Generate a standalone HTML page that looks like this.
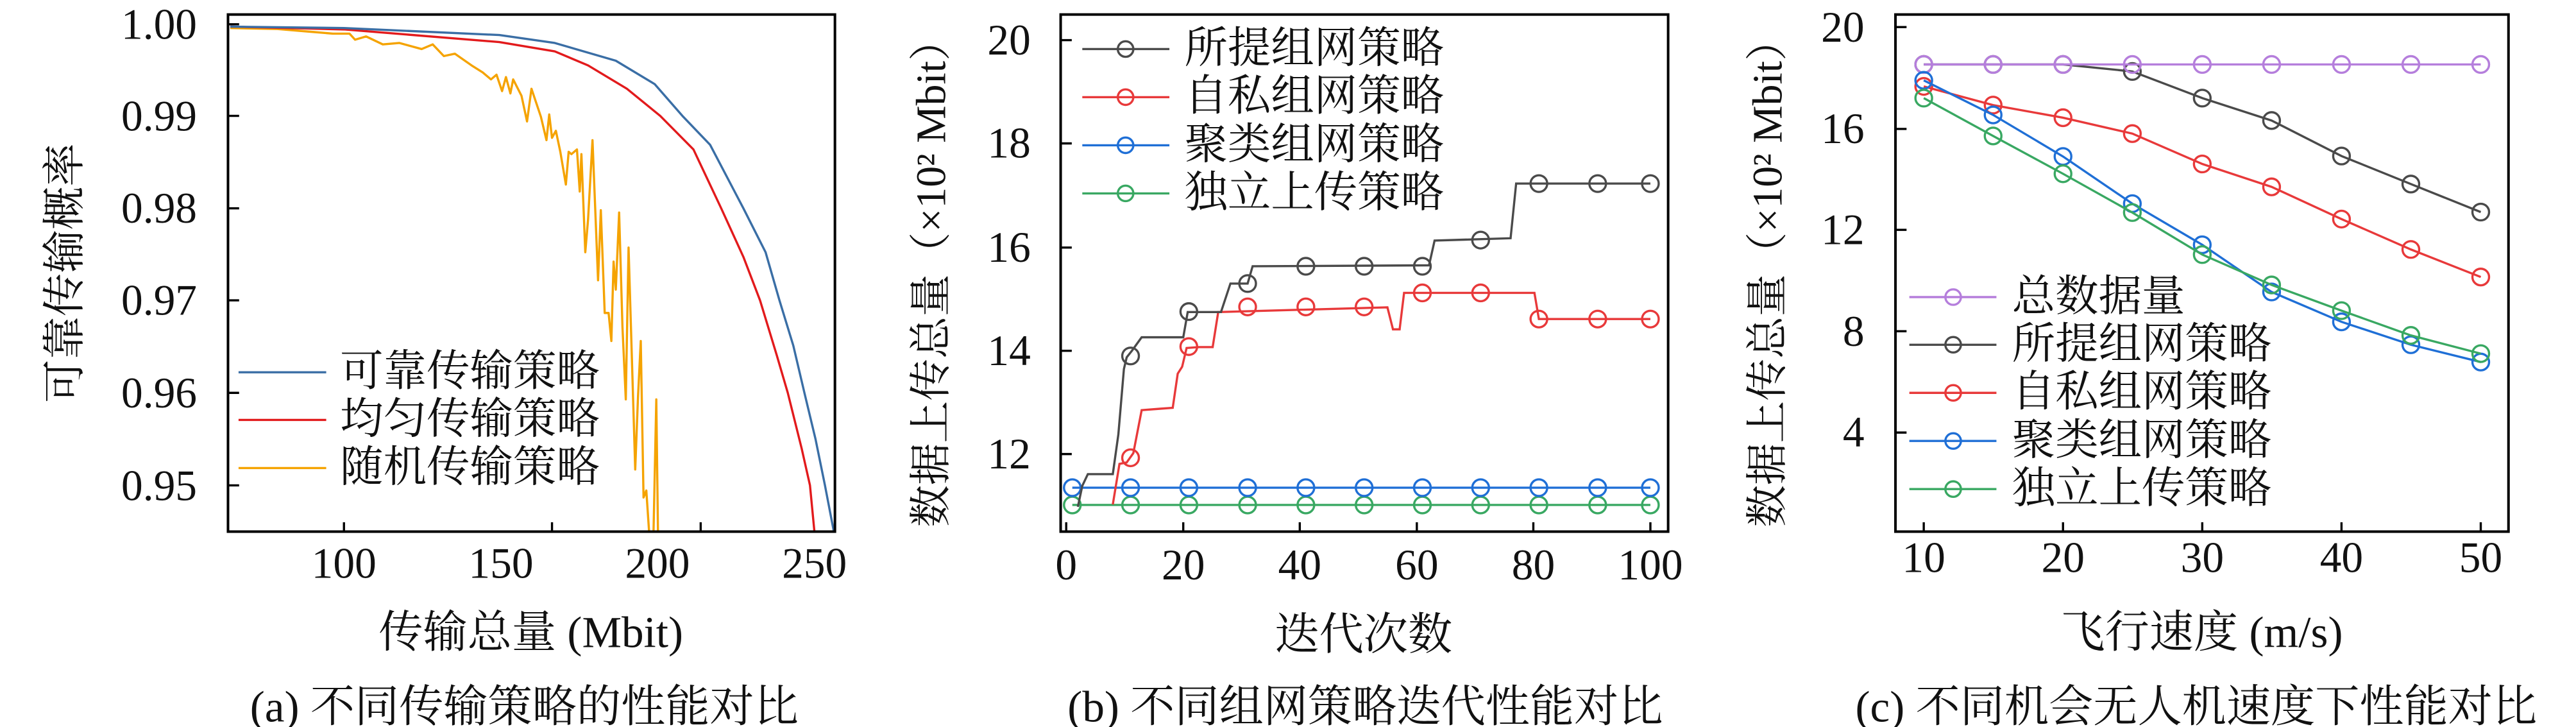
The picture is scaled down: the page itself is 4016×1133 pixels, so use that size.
<!DOCTYPE html>
<html><head><meta charset="utf-8"><style>
html,body{margin:0;padding:0;background:#fff;overflow:hidden;}
svg{display:block;}
text{font-family:"Liberation Serif","Noto Serif CJK SC","Noto Sans CJK SC",serif;fill:#111;}
.g *{vector-effect:non-scaling-stroke;}
.g polyline,.g line,.g ellipse{stroke-width:3.4px;}
.g rect{stroke-width:4px;}
</style></head><body>
<svg width="4016" height="1133" viewBox="0 0 4016 1133" xmlns="http://www.w3.org/2000/svg">
<rect width="4016" height="1133" fill="#fff"/>

<!-- Panel a geometry -->
<g class="g" transform="scale(0.8649,0.728)">
  <g stroke="#000">
    <line x1="411" y1="52" x2="431" y2="52"/><line x1="411" y1="248" x2="431" y2="248"/>
    <line x1="411" y1="446" x2="431" y2="446"/><line x1="411" y1="643" x2="431" y2="643"/>
    <line x1="411" y1="841" x2="431" y2="841"/><line x1="411" y1="1039" x2="431" y2="1039"/>
    <line x1="620" y1="1138" x2="620" y2="1118"/><line x1="995" y1="1138" x2="995" y2="1118"/>
    <line x1="1263" y1="1138" x2="1263" y2="1118"/>
  </g>
  <polyline fill="none" stroke="#f5a300" stroke-linejoin="round" points="415,60 500,62 560,68 600,72 630,72 640,85 660,78 690,95 720,92 760,105 780,95 800,120 820,115 850,140 870,155 885,170 895,160 905,195 912,165 920,200 925,170 940,205 950,260 958,190 975,250 985,300 990,245 995,295 1002,280 1010,325 1020,395 1025,325 1030,330 1040,320 1045,410 1048,330 1055,540 1060,470 1068,300 1078,600 1083,450 1090,670 1097,670 1102,730 1106,560 1110,620 1116,455 1122,700 1128,855 1133,530 1145,1005 1150,850 1155,730 1160,1065 1165,1050 1170,1138 1178,1138 1183,855 1186,1138"/>
  <polyline fill="none" stroke="#e21a1c" stroke-linejoin="round" points="415,57 620,63 900,90 1000,110 1060,140 1130,190 1190,248 1250,320 1300,446 1340,550 1370,643 1400,760 1420,841 1445,960 1460,1039 1468,1138"/>
  <polyline fill="none" stroke="#3a6ea5" stroke-linejoin="round" points="415,57 620,60 900,75 1000,92 1110,130 1180,180 1230,248 1280,310 1340,446 1380,540 1405,643 1430,740 1450,841 1470,940 1487,1039 1503,1138"/>
  <rect x="411" y="31" width="1094" height="1107" fill="none" stroke="#000"/>
  <line x1="430" y1="797" x2="588" y2="797" stroke="#3a6ea5"/>
  <line x1="430" y1="899" x2="588" y2="899" stroke="#e21a1c"/>
  <line x1="430" y1="1002" x2="588" y2="1002" stroke="#f5a300"/>
</g>
<g transform="scale(0.8649)">
  <g font-size="78" text-anchor="end">
    <text x="355" y="70">1.00</text><text x="355" y="235">0.99</text><text x="355" y="401">0.98</text>
    <text x="355" y="567">0.97</text><text x="355" y="734">0.96</text><text x="355" y="901">0.95</text>
  </g>
  <g font-size="78" text-anchor="middle">
    <text x="620" y="1041">100</text><text x="903" y="1041">150</text>
    <text x="1185" y="1041">200</text><text x="1468" y="1041">250</text>
  </g>
  <g font-size="78">
    <text x="613" y="695">可靠传输策略</text><text x="613" y="781">均匀传输策略</text><text x="613" y="868">随机传输策略</text>
  </g>
  <text x="957" y="1166" font-size="80" text-anchor="middle">传输总量 (Mbit)</text>
  <text x="945" y="1300" font-size="80" text-anchor="middle">(a) 不同传输策略的性能对比</text>
  <text transform="translate(143,492) rotate(-90)" font-size="78" text-anchor="middle">可靠传输概率</text>
</g>

<!-- Panel b geometry -->
<g class="g" transform="translate(1350,0) scale(0.8649,0.728)">
  <g stroke="#000">
    <line x1="351" y1="86" x2="371" y2="86"/><line x1="351" y1="307" x2="371" y2="307"/>
    <line x1="351" y1="530" x2="371" y2="530"/><line x1="351" y1="751" x2="371" y2="751"/>
    <line x1="351" y1="972" x2="371" y2="972"/>
    <line x1="361" y1="1138" x2="361" y2="1118"/><line x1="572" y1="1138" x2="572" y2="1118"/>
    <line x1="782" y1="1138" x2="782" y2="1118"/><line x1="993" y1="1138" x2="993" y2="1118"/>
    <line x1="1203" y1="1138" x2="1203" y2="1118"/><line x1="1414" y1="1138" x2="1414" y2="1118"/>
  </g>
  <g fill="none">
    <g stroke="#39a862">
      <line x1="372" y1="1081" x2="1414" y2="1081"/>
      <ellipse cx="372" cy="1081" rx="15" ry="17.8"/><ellipse cx="477" cy="1081" rx="15" ry="17.8"/><ellipse cx="582" cy="1081" rx="15" ry="17.8"/><ellipse cx="688" cy="1081" rx="15" ry="17.8"/><ellipse cx="793" cy="1081" rx="15" ry="17.8"/><ellipse cx="898" cy="1081" rx="15" ry="17.8"/><ellipse cx="1003" cy="1081" rx="15" ry="17.8"/><ellipse cx="1108" cy="1081" rx="15" ry="17.8"/><ellipse cx="1213" cy="1081" rx="15" ry="17.8"/><ellipse cx="1319" cy="1081" rx="15" ry="17.8"/><ellipse cx="1414" cy="1081" rx="15" ry="17.8"/>
    </g>
    <g stroke="#1f6fd6">
      <line x1="372" y1="1044" x2="1414" y2="1044"/>
      <ellipse cx="372" cy="1044" rx="15" ry="17.8"/><ellipse cx="477" cy="1044" rx="15" ry="17.8"/><ellipse cx="582" cy="1044" rx="15" ry="17.8"/><ellipse cx="688" cy="1044" rx="15" ry="17.8"/><ellipse cx="793" cy="1044" rx="15" ry="17.8"/><ellipse cx="898" cy="1044" rx="15" ry="17.8"/><ellipse cx="1003" cy="1044" rx="15" ry="17.8"/><ellipse cx="1108" cy="1044" rx="15" ry="17.8"/><ellipse cx="1213" cy="1044" rx="15" ry="17.8"/><ellipse cx="1319" cy="1044" rx="15" ry="17.8"/><ellipse cx="1414" cy="1044" rx="15" ry="17.8"/>
    </g>
    <g stroke="#e8393a">
      <polyline points="445,1080 457,993 470,990 482,970 497,878 530,875 553,873 562,800 570,785 578,745 600,743 625,743 635,668 940,658 950,705 962,705 970,627 1205,627 1213,683 1414,683"/>
      <ellipse cx="477" cy="980" rx="15" ry="17.8"/><ellipse cx="582" cy="742" rx="15" ry="17.8"/><ellipse cx="688" cy="657" rx="15" ry="17.8"/><ellipse cx="793" cy="657" rx="15" ry="17.8"/><ellipse cx="898" cy="657" rx="15" ry="17.8"/><ellipse cx="1003" cy="627" rx="15" ry="17.8"/><ellipse cx="1108" cy="627" rx="15" ry="17.8"/><ellipse cx="1213" cy="683" rx="15" ry="17.8"/><ellipse cx="1319" cy="683" rx="15" ry="17.8"/><ellipse cx="1414" cy="683" rx="15" ry="17.8"/>
    </g>
    <g stroke="#4a4a4a">
      <polyline points="382,1085 390,1040 400,1015 445,1015 455,930 465,790 470,765 480,750 497,722 572,722 580,668 640,668 657,607 688,607 697,570 1015,568 1025,515 1162,510 1172,393 1414,393"/>
      <ellipse cx="477" cy="762" rx="15" ry="17.8"/><ellipse cx="582" cy="667" rx="15" ry="17.8"/><ellipse cx="688" cy="607" rx="15" ry="17.8"/><ellipse cx="793" cy="570" rx="15" ry="17.8"/><ellipse cx="898" cy="570" rx="15" ry="17.8"/><ellipse cx="1003" cy="570" rx="15" ry="17.8"/><ellipse cx="1108" cy="514" rx="15" ry="17.8"/><ellipse cx="1213" cy="393" rx="15" ry="17.8"/><ellipse cx="1319" cy="393" rx="15" ry="17.8"/><ellipse cx="1414" cy="393" rx="15" ry="17.8"/>
    </g>
  </g>
  <rect x="351" y="31" width="1095" height="1107" fill="none" stroke="#000"/>
  <g fill="none">
    <g stroke="#4a4a4a"><line x1="390" y1="105" x2="547" y2="105"/><ellipse cx="468" cy="105" rx="14" ry="16.6"/></g>
    <g stroke="#e8393a"><line x1="390" y1="208" x2="547" y2="208"/><ellipse cx="468" cy="208" rx="14" ry="16.6"/></g>
    <g stroke="#1f6fd6"><line x1="390" y1="311" x2="547" y2="311"/><ellipse cx="468" cy="311" rx="14" ry="16.6"/></g>
    <g stroke="#39a862"><line x1="390" y1="414" x2="547" y2="414"/><ellipse cx="468" cy="414" rx="14" ry="16.6"/></g>
  </g>
</g>
<g transform="translate(1350,0) scale(0.8649)">
  <g font-size="78" text-anchor="end">
    <text x="297" y="98">20</text><text x="297" y="284">18</text><text x="297" y="472">16</text>
    <text x="297" y="658">14</text><text x="297" y="844">12</text>
  </g>
  <g font-size="78" text-anchor="middle">
    <text x="361" y="1044">0</text><text x="572" y="1044">20</text><text x="782" y="1044">40</text>
    <text x="993" y="1044">60</text><text x="1203" y="1044">80</text><text x="1414" y="1044">100</text>
  </g>
  <g font-size="78">
    <text x="574" y="113">所提组网策略</text><text x="574" y="199">自私组网策略</text>
    <text x="574" y="286">聚类组网策略</text><text x="574" y="373">独立上传策略</text>
  </g>
  <text x="897" y="1170" font-size="80" text-anchor="middle">迭代次数</text>
  <text x="900" y="1300" font-size="80" text-anchor="middle">(b) 不同组网策略迭代性能对比</text>
  <text transform="translate(143,492) rotate(-90)" font-size="76" text-anchor="middle">数据上传总量（×10² Mbit）</text>
</g>

<!-- Panel c geometry -->
<g class="g" transform="translate(2680,0) scale(0.8649,0.728)">
  <g stroke="#000">
    <line x1="318" y1="58" x2="338" y2="58"/><line x1="318" y1="276" x2="338" y2="276"/>
    <line x1="318" y1="492" x2="338" y2="492"/><line x1="318" y1="709" x2="338" y2="709"/>
    <line x1="318" y1="926" x2="338" y2="926"/>
    <line x1="369" y1="1138" x2="369" y2="1118"/><line x1="620" y1="1138" x2="620" y2="1118"/>
    <line x1="871" y1="1138" x2="871" y2="1118"/><line x1="1122" y1="1138" x2="1122" y2="1118"/>
    <line x1="1373" y1="1138" x2="1373" y2="1118"/>
  </g>
  <g fill="none">
    <g stroke="#4a4a4a">
      <polyline points="369,138 494,138 620,138 745,153 871,210 996,258 1122,334 1247,394 1373,454"/>
      <ellipse cx="369" cy="138" rx="15" ry="17.8"/><ellipse cx="494" cy="138" rx="15" ry="17.8"/><ellipse cx="620" cy="138" rx="15" ry="17.8"/><ellipse cx="745" cy="153" rx="15" ry="17.8"/><ellipse cx="871" cy="210" rx="15" ry="17.8"/><ellipse cx="996" cy="258" rx="15" ry="17.8"/><ellipse cx="1122" cy="334" rx="15" ry="17.8"/><ellipse cx="1247" cy="394" rx="15" ry="17.8"/><ellipse cx="1373" cy="454" rx="15" ry="17.8"/>
    </g>
    <g stroke="#b57edc">
      <polyline points="369,138 1373,138"/>
      <ellipse cx="369" cy="138" rx="15" ry="17.8"/><ellipse cx="494" cy="138" rx="15" ry="17.8"/><ellipse cx="620" cy="138" rx="15" ry="17.8"/><ellipse cx="745" cy="138" rx="15" ry="17.8"/><ellipse cx="871" cy="138" rx="15" ry="17.8"/><ellipse cx="996" cy="138" rx="15" ry="17.8"/><ellipse cx="1122" cy="138" rx="15" ry="17.8"/><ellipse cx="1247" cy="138" rx="15" ry="17.8"/><ellipse cx="1373" cy="138" rx="15" ry="17.8"/>
    </g>
    <g stroke="#e8393a">
      <polyline points="369,185 494,225 620,252 745,286 871,351 996,400 1122,469 1247,534 1373,593"/>
      <ellipse cx="369" cy="185" rx="15" ry="17.8"/><ellipse cx="494" cy="225" rx="15" ry="17.8"/><ellipse cx="620" cy="252" rx="15" ry="17.8"/><ellipse cx="745" cy="286" rx="15" ry="17.8"/><ellipse cx="871" cy="351" rx="15" ry="17.8"/><ellipse cx="996" cy="400" rx="15" ry="17.8"/><ellipse cx="1122" cy="469" rx="15" ry="17.8"/><ellipse cx="1247" cy="534" rx="15" ry="17.8"/><ellipse cx="1373" cy="593" rx="15" ry="17.8"/>
    </g>
    <g stroke="#1f6fd6">
      <polyline points="369,172 494,246 620,335 745,436 871,524 996,625 1122,689 1247,738 1373,775"/>
      <ellipse cx="369" cy="172" rx="15" ry="17.8"/><ellipse cx="494" cy="246" rx="15" ry="17.8"/><ellipse cx="620" cy="335" rx="15" ry="17.8"/><ellipse cx="745" cy="436" rx="15" ry="17.8"/><ellipse cx="871" cy="524" rx="15" ry="17.8"/><ellipse cx="996" cy="625" rx="15" ry="17.8"/><ellipse cx="1122" cy="689" rx="15" ry="17.8"/><ellipse cx="1247" cy="738" rx="15" ry="17.8"/><ellipse cx="1373" cy="775" rx="15" ry="17.8"/>
    </g>
    <g stroke="#39a862">
      <polyline points="369,210 494,291 620,372 745,455 871,545 996,610 1122,665 1247,718 1373,757"/>
      <ellipse cx="369" cy="210" rx="15" ry="17.8"/><ellipse cx="494" cy="291" rx="15" ry="17.8"/><ellipse cx="620" cy="372" rx="15" ry="17.8"/><ellipse cx="745" cy="455" rx="15" ry="17.8"/><ellipse cx="871" cy="545" rx="15" ry="17.8"/><ellipse cx="996" cy="610" rx="15" ry="17.8"/><ellipse cx="1122" cy="665" rx="15" ry="17.8"/><ellipse cx="1247" cy="718" rx="15" ry="17.8"/><ellipse cx="1373" cy="757" rx="15" ry="17.8"/>
    </g>
  </g>
  <rect x="318" y="31" width="1105" height="1107" fill="none" stroke="#000"/>
  <g fill="none">
    <g stroke="#b57edc"><line x1="343" y1="636" x2="500" y2="636"/><ellipse cx="422" cy="636" rx="14" ry="16.6"/></g>
    <g stroke="#4a4a4a"><line x1="343" y1="738" x2="500" y2="738"/><ellipse cx="422" cy="738" rx="14" ry="16.6"/></g>
    <g stroke="#e8393a"><line x1="343" y1="841" x2="500" y2="841"/><ellipse cx="422" cy="841" rx="14" ry="16.6"/></g>
    <g stroke="#1f6fd6"><line x1="343" y1="944" x2="500" y2="944"/><ellipse cx="422" cy="944" rx="14" ry="16.6"/></g>
    <g stroke="#39a862"><line x1="343" y1="1047" x2="500" y2="1047"/><ellipse cx="422" cy="1047" rx="14" ry="16.6"/></g>
  </g>
</g>
<g transform="translate(2680,0) scale(0.8649)">
  <g font-size="78" text-anchor="end">
    <text x="262" y="75">20</text><text x="262" y="258">16</text><text x="262" y="440">12</text>
    <text x="262" y="623">8</text><text x="262" y="805">4</text>
  </g>
  <g font-size="78" text-anchor="middle">
    <text x="369" y="1031">10</text><text x="620" y="1031">20</text><text x="871" y="1031">30</text>
    <text x="1122" y="1031">40</text><text x="1373" y="1031">50</text>
  </g>
  <g font-size="78">
    <text x="528" y="560">总数据量</text><text x="528" y="646">所提组网策略</text>
    <text x="528" y="732">自私组网策略</text><text x="528" y="819">聚类组网策略</text>
    <text x="528" y="906">独立上传策略</text>
  </g>
  <text x="870" y="1166" font-size="80" text-anchor="middle">飞行速度 (m/s)</text>
  <text x="860" y="1300" font-size="80" text-anchor="middle">(c) 不同机会无人机速度下性能对比</text>
  <text transform="translate(113,492) rotate(-90)" font-size="76" text-anchor="middle">数据上传总量（×10² Mbit）</text>
</g>
</svg>
</body></html>
